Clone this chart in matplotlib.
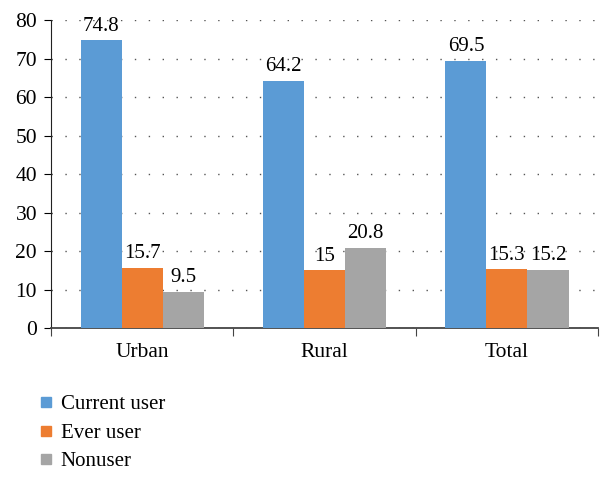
import numpy as np
import matplotlib.pyplot as plt
from matplotlib.lines import Line2D

categories = ["Urban", "Rural", "Total"]
series_names = ["Current user", "Ever user", "Nonuser"]
current_user = [74.8, 64.2, 69.5]
ever_user = [15.7, 15, 15.3]
nonuser = [9.5, 20.8, 15.2]
colors = ["#5B9BD5", "#ED7D31", "#A5A5A5"]

plt.rcParams["font.family"] = ["Liberation Serif", "DejaVu Serif"]

fig = plt.figure(figsize=(6.1, 4.79), dpi=100)
ax = fig.add_axes([0.0836, 0.315, 0.897, 0.643])

x = np.arange(len(categories))
width = 0.225
for i, (vals, col) in enumerate(zip([current_user, ever_user, nonuser], colors)):
    pos = x + (i - 1) * width
    ax.bar(pos, vals, width, color=col, zorder=3)
    for p, v in zip(pos, vals):
        ax.text(p, v + 1.2, f"{v:g}", ha="center", va="bottom", fontsize=15)

ax.set_xlim(-0.5, 2.5)
ax.set_ylim(0, 80)
ax.set_yticks(range(0, 81, 10))
ax.set_xticks([-0.5, 0.5, 1.5, 2.5])
ax.set_xticklabels([])
ax.set_xticks(x, minor=True)
ax.set_xticklabels(categories, minor=True, fontsize=15.5)
ax.tick_params(axis="x", which="minor", length=0, pad=11)
ax.tick_params(axis="x", which="major", length=6, direction="out", color="#444444")
ax.tick_params(axis="y", length=5, labelsize=15.5, pad=5)

ax.grid(axis="y", linestyle=(0, (1, 9)), color="#555555", linewidth=1, zorder=0)
for s in ["top", "right"]:
    ax.spines[s].set_visible(False)
ax.spines["left"].set_color("#222222")
ax.spines["bottom"].set_color("#444444")
ax.spines["bottom"].set_linewidth(1.3)

handles = [Line2D([], [], marker="s", linestyle="", markersize=7, color=c) for c in colors]
fig.legend(handles, series_names, loc="upper left", bbox_to_anchor=(0.045, 0.193),
           frameon=False, fontsize=15, handletextpad=0.2, labelspacing=0.42,
           handlelength=1.0, borderaxespad=0)

fig.savefig("out.png", dpi=100)
